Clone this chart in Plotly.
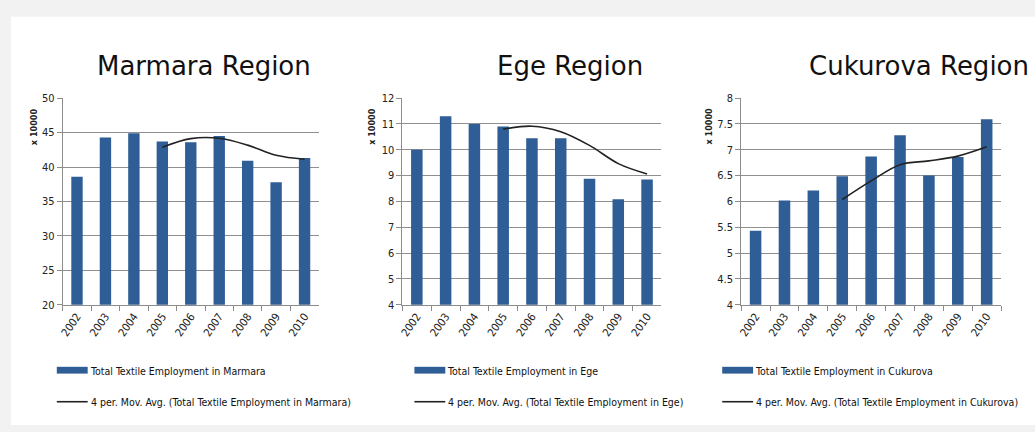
import plotly.graph_objects as go
import pandas as pd

years = ["2002", "2003", "2004", "2005", "2006", "2007", "2008", "2009", "2010"]
marmara = [38.6, 44.3, 44.9, 43.7, 43.6, 44.5, 40.9, 37.8, 41.3]
ege = [10.0, 11.3, 11.0, 10.9, 10.45, 10.45, 8.88, 8.08, 8.85]
cukurova = [5.43, 6.02, 6.21, 6.49, 6.87, 7.28, 6.5, 6.86, 7.59]

regions = ["Marmara", "Ege", "Cukurova"]
series = [marmara, ege, cukurova]
y_ranges = [[20, 50], [4, 12], [4, 8]]
y_dticks = [5, 1, 0.5]

W, H = 1035, 432
BAR = "#2f5d95"
FONT = "DejaVu Sans Condensed, DejaVu Sans, sans-serif"
TFONT = "DejaVu Sans, sans-serif"

# pixel layout of each panel
x_pix = [(59, 316), (400, 660), (740, 1001)]
title_x = [(201, "center"), (568, "center"), (1031, "right")]
ytitle_x = [30, 370, 708]
legend_x = [53, 412, 721]
y_top, y_bot = 95, 308

def px(x):
    return x / W

def py(y):
    return 1 - y / H

fig = go.Figure()

shapes = []
annotations = []

# background card
shapes.append(dict(type="rect", xref="paper", yref="paper",
                   x0=px(7), x1=1.0, y0=0, y1=py(11),
                   fillcolor="white", line=dict(width=0), layer="below"))

for i, (name, vals) in enumerate(zip(regions, series)):
    xa = "x" if i == 0 else f"x{i+1}"
    ya = "y" if i == 0 else f"y{i+1}"
    ma = pd.Series(vals).rolling(4).mean().tolist()
    fig.add_trace(go.Bar(x=years, y=vals, marker=dict(color=BAR, line=dict(width=0)),
                         xaxis=xa, yaxis=ya, showlegend=False,
                         name=f"Total Textile Employment in {name}"))
    fig.add_trace(go.Scatter(x=years[3:], y=ma[3:], mode="lines",
                             line=dict(color="#222222", width=1.6, shape="spline"),
                             xaxis=xa, yaxis=ya, showlegend=False,
                             name=f"4 per. Mov. Avg. (Total Textile Employment in {name})"))

    axkey = "xaxis" if i == 0 else f"xaxis{i+1}"
    aykey = "yaxis" if i == 0 else f"yaxis{i+1}"
    fig.layout[axkey] = dict(
        domain=[px(x_pix[i][0]), px(x_pix[i][1])], anchor=ya,
        type="category", tickangle=-55, showgrid=False,
        showline=True, linecolor="#8c8c8c", linewidth=1,
        ticks="outside", tickson="boundaries", ticklen=5, tickcolor="#8c8c8c",
        tickfont=dict(family=FONT, size=11, color="#222"),
        fixedrange=True,
    )
    fig.layout[aykey] = dict(
        domain=[py(y_bot), py(y_top)], anchor=xa,
        range=y_ranges[i], dtick=y_dticks[i], tick0=y_ranges[i][0],
        showgrid=True, gridcolor="#8f8f8f", gridwidth=1,
        showline=True, linecolor="#8c8c8c", linewidth=1,
        ticks="outside", ticklen=5, tickcolor="#8c8c8c",
        tickfont=dict(family=FONT, size=11, color="#222"),
        zeroline=False, fixedrange=True,
    )

    # panel title
    tx, anc = title_x[i]
    annotations.append(dict(text=f"{name} Region", xref="paper", yref="paper",
                            x=px(tx), y=py(62), xanchor=anc, yanchor="middle",
                            showarrow=False,
                            font=dict(family=TFONT, size=26, color="#111", weight=500)))
    # display unit label
    annotations.append(dict(text="<b>x 10000</b>", xref="paper", yref="paper",
                            x=px(ytitle_x[i]), y=py(124), xanchor="center", yanchor="middle",
                            textangle=-90, showarrow=False,
                            font=dict(family=FONT, size=9, color="#222")))
    # legend: bar swatch
    lx = legend_x[i]
    shapes.append(dict(type="rect", xref="paper", yref="paper",
                       x0=px(lx), x1=px(lx + 31), y0=py(379), y1=py(372),
                       fillcolor=BAR, line=dict(width=0)))
    annotations.append(dict(text=f"Total Textile Employment in {name}", xref="paper", yref="paper",
                            x=px(lx + 31), y=py(376), xanchor="left", yanchor="middle",
                            showarrow=False, font=dict(family=FONT, size=10.5, color="#111")))
    # legend: line
    shapes.append(dict(type="line", xref="paper", yref="paper",
                       x0=px(lx), x1=px(lx + 31), y0=py(408), y1=py(408),
                       line=dict(color="#222", width=1.6)))
    annotations.append(dict(text=f"4 per. Mov. Avg. (Total Textile Employment in {name})",
                            xref="paper", yref="paper",
                            x=px(lx + 32), y=py(408), xanchor="left", yanchor="middle",
                            showarrow=False, font=dict(family=FONT, size=10.5, color="#111")))

fig.update_layout(
    width=W, height=H, margin=dict(l=0, r=0, t=0, b=0),
    paper_bgcolor="#f2f2f2", plot_bgcolor="rgba(0,0,0,0)",
    bargap=0.6, shapes=shapes, annotations=annotations,
)

fig.write_html("out.html", config={"displayModeBar": False})
